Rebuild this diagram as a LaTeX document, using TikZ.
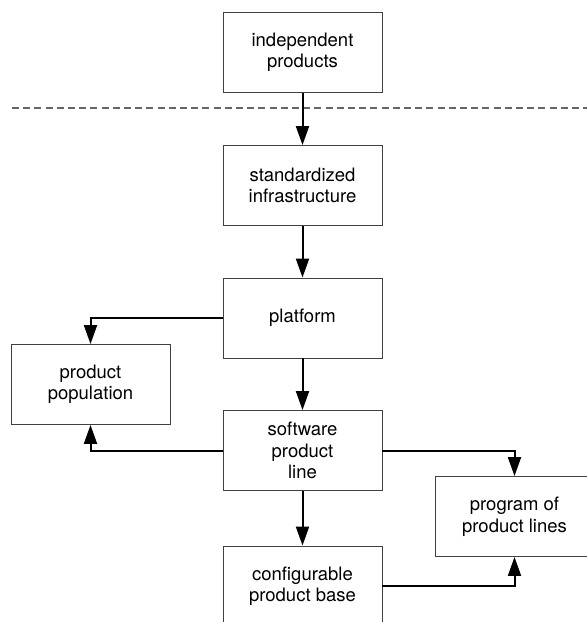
\documentclass[tikz,border=0pt]{standalone}
\usepackage{fontspec}
\setmainfont{TeX Gyre Heros}
\usetikzlibrary{arrows,arrows.meta,calc,positioning}
\begin{document}
\begin{tikzpicture}[x=1pt,y=-1pt,>={Triangle[length=19pt,width=13pt]}]
    \tikzset{
        a/.style={->, line width=2pt},
        b/.style={draw=black!75, line width=0.9pt, minimum width=159pt, minimum height=80pt, inner sep=0pt, align=center, font={\fontsize{18.5}{21.5}\selectfont}},
    }
        \useasboundingbox (0,0) rectangle (587,622);

        \node[b] (indep) at (302.5,52.5) {independent\\products};
        \node[b] (infra) at (302.5,185.5) {standardized\\infrastructure};
        \node[b] (platf) at (302.5,318) {platform};
        \node[b] (popul) at (90.5,384.5) {product\\population};
        \node[b] (spl) at (302.5,450.5) {software\\product\\line};
        \node[b] (prog) at (514.5,516.5) {program of\\product lines};
        \node[b] (conf) at (302.5,586) {configurable\\product base};

        \coordinate (dl) at (12,108);
        \coordinate (dr) at (587,108);
        \draw [black!60, line width=1.2pt, dash pattern=on 7pt off 4.2pt] (dl) -- (dr);

        \draw [a] (indep) -- (infra);
        \draw [a] (infra) -- (platf);
        \draw [a] (platf) -- (spl);
        \draw [a] (spl) -- (conf);
        \draw [a] (platf.west) -| (popul.north);
        \draw [a] (spl.west) -| (popul.south);
        \draw [a] (spl.east) -| (prog.north);
        \draw [a] (conf.east) -| (prog.south);
    \end{tikzpicture}
\end{document}
